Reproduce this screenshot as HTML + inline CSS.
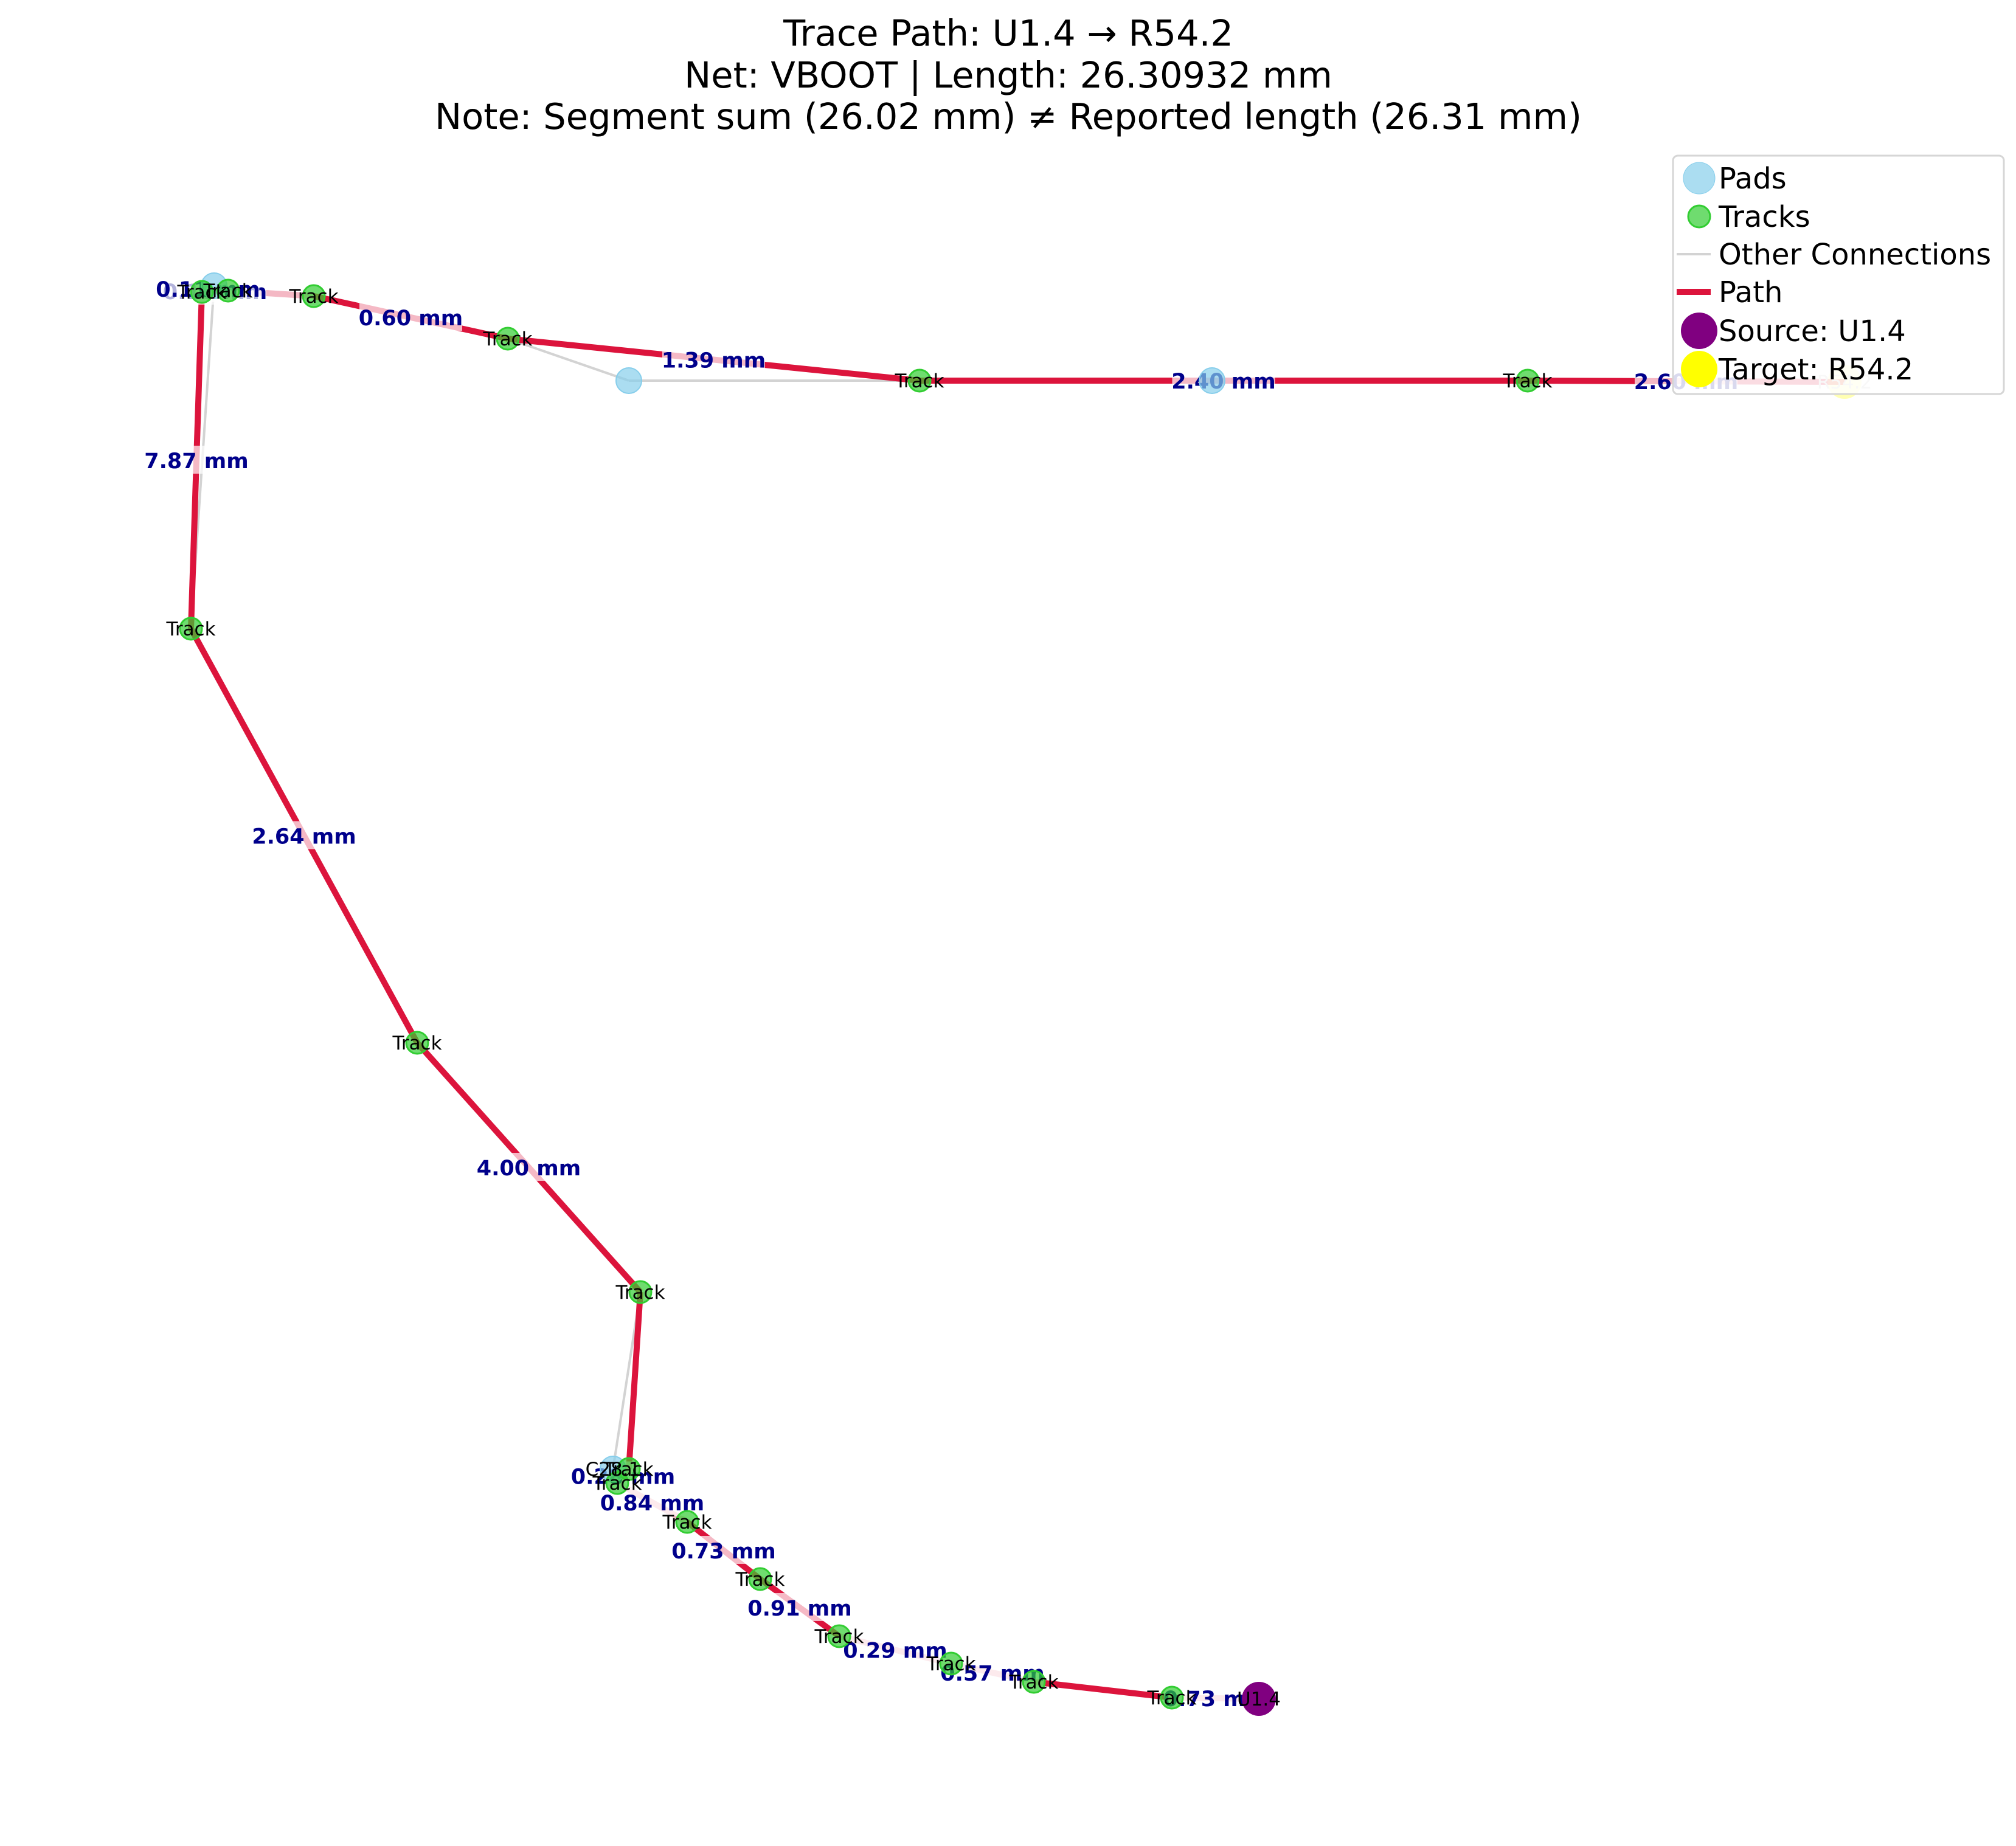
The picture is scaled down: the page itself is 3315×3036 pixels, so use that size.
<!DOCTYPE html>
<html><head><meta charset="utf-8"><style>
html,body{margin:0;padding:0;background:#fff;}
svg{display:block;font-family:"DejaVu Sans","Liberation Sans",sans-serif;}
</style></head><body>
<svg id="chart" width="3315" height="3036" viewBox="0 0 3315 3036" xmlns="http://www.w3.org/2000/svg">
<g font-size="59" text-anchor="middle" fill="#000">
<text x="1658" y="75">Trace Path: U1.4 → R54.2</text>
<text x="1658" y="144">Net: VBOOT | Length: 26.30932 mm</text>
<text x="1658" y="212">Note: Segment sum (26.02 mm) ≠ Reported length (26.31 mm)</text>
</g>
<g id="other"></g>
<g id="path"></g>
<g id="elabels"></g>
<g id="nodes"></g>
<g id="nlabels"></g>
<g>
<rect x="2751" y="256" width="544" height="392" rx="8" fill="#fff" fill-opacity="0.85" stroke="#d6d6d6" stroke-width="3"/>
<g font-size="48" fill="#000">
<circle cx="2794" cy="293" r="26" fill="#87ceeb" fill-opacity="0.7" stroke="#87ceeb"/><text x="2826" y="310">Pads</text>
<circle cx="2794" cy="356" r="18" fill="#32cd32" fill-opacity="0.7" stroke="#32cd32" stroke-width="3"/><text x="2826" y="373">Tracks</text>
<line x1="2757" y1="418" x2="2813" y2="418" stroke="#d3d3d3" stroke-width="4"/><text x="2826" y="435">Other Connections</text>
<line x1="2757" y1="480" x2="2813" y2="480" stroke="#dc143c" stroke-width="10"/><text x="2826" y="497">Path</text>
<circle cx="2794" cy="544" r="30" fill="#800080"/><text x="2826" y="561">Source: U1.4</text>
<circle cx="2794" cy="607" r="30" fill="#ffff00"/><text x="2826" y="624">Target: R54.2</text>
</g></g>
</svg>
<script>
// node data (board coords, mm-like units)
const nodeNames = ["A","PadA","B","C","D","PadD","E","PadE","F","TGT","G","H","I","PadI","J","K","L","M","N","O","P","Q","SRC"];
const nodeX = [0.32,0.52,0.75,2.16,5.35,7.34,12.12,16.93,22.12,27.33,0.14,3.86,7.53,7.08,7.34,7.15,8.30,9.50,10.80,12.64,14.00,16.27,17.70];
const nodeY = [4.80,4.70,4.78,4.87,5.57,6.26,6.26,6.26,6.26,6.28,10.34,17.15,21.25,24.16,24.16,24.39,25.03,25.97,26.91,27.36,27.66,27.92,27.94];
const nodeKind = ["track","pad","track","track","track","pad","track","pad","track","target","track","track","track","pad","track","track","track","track","track","track","track","track","source"];
const nodeLabel = ["Track","","Track","Track","Track","","Track","","Track","R54.2","Track","Track","Track","C28.1","Track","Track","Track","Track","Track","Track","Track","Track","U1.4"];
// path edges (from index, to index), colour style, segment label
const pathFrom = [22,21,20,19,18,17,16,15,14,12,11,10,0,2,3,4,6,8];
const pathTo   = [21,20,19,18,17,16,15,14,12,11,10,0,2,3,4,6,8,9];
const pathPink = [1,0,1,1,0,0,1,0,0,0,0,0,1,1,0,0,0,0];
const segLabels = ["0.73 mm","","0.57 mm","0.29 mm","0.91 mm","0.73 mm","0.84 mm","0.28 mm","","4.00 mm","2.64 mm","7.87 mm","0.16 mm","","0.60 mm","1.39 mm","2.40 mm","2.60 mm"];
const otherFrom = [1,4,5,12,1];
const otherTo   = [10,5,6,13,0];
const extraLabelText = ["0.11 mm"];
const extraLabelFrom = [0];
const extraLabelTo = [1];

const sx = v => 300 + v*100;
const sy = v => v*100;
const NS = "http://www.w3.org/2000/svg";
function mk(tag, attrs, parent){const e=document.createElementNS(NS,tag);for(const k in attrs)e.setAttribute(k,attrs[k]);parent.appendChild(e);return e;}
const gO=document.getElementById('other'),gP=document.getElementById('path'),gE=document.getElementById('elabels'),gN=document.getElementById('nodes'),gL=document.getElementById('nlabels');

for(let i=0;i<otherFrom.length;i++){
  const a=otherFrom[i],b=otherTo[i];
  const l=mk('line',{x1:sx(nodeX[a]),y1:sy(nodeY[a]),x2:sx(nodeX[b]),y2:sy(nodeY[b]),stroke:'#d3d3d3','stroke-width':4},gO);
  
  
}
function edgeLabel(a,b,t){
  if(!t)return;
  const x=(sx(nodeX[a])+sx(nodeX[b]))/2, y=(sy(nodeY[a])+sy(nodeY[b]))/2;
  const w=t.length*23+8;
  const r=mk('rect',{x:x-w/2,y:y-24,width:w,height:46,fill:'#fff','fill-opacity':0.7},gE);
  
  
  const tx=mk('text',{x:x,y:y+13,'text-anchor':'middle','font-size':35,'font-weight':'bold',fill:'#00008b'},gE);
  tx.textContent=t;
  
  
}
for(let i=0;i<pathFrom.length;i++){
  const a=pathFrom[i],b=pathTo[i];
  const l=mk('line',{x1:sx(nodeX[a]),y1:sy(nodeY[a]),x2:sx(nodeX[b]),y2:sy(nodeY[b]),stroke:pathPink[i]?'#f4b8c4':'#dc143c','stroke-width':10},gP);
  
  
  edgeLabel(a,b,segLabels[i]);
}
for(let i=0;i<extraLabelText.length;i++)edgeLabel(extraLabelFrom[i],extraLabelTo[i],extraLabelText[i]);

const order=[];
nodeKind.forEach((k,i)=>{if(k==='pad')order.push(i);});
nodeKind.forEach((k,i)=>{if(k!=='pad')order.push(i);});
for(const i of order){
  const k=nodeKind[i];let attrs={cx:sx(nodeX[i]),cy:sy(nodeY[i])};
  if(k==='pad')Object.assign(attrs,{r:21,fill:'#87ceeb','fill-opacity':0.7,stroke:'#87ceeb','stroke-width':2});
  else if(k==='track')Object.assign(attrs,{r:18,fill:'#32cd32','fill-opacity':0.7,stroke:'#32cd32','stroke-width':3});
  else if(k==='source')Object.assign(attrs,{r:28,fill:'#800080'});
  else Object.assign(attrs,{r:28,fill:'#ffff00','fill-opacity':0.3});
  const c=mk('circle',attrs,gN);
  
  
}
for(let i=0;i<nodeLabel.length;i++){
  if(!nodeLabel[i])continue;
  const t=mk('text',{x:sx(nodeX[i]),y:sy(nodeY[i])+11,'text-anchor':'middle','font-size':31,fill:nodeKind[i]==='target'?'#ccc':'#000'},gL);
  t.textContent=nodeLabel[i];
  
  
}
</script>
</body></html>
